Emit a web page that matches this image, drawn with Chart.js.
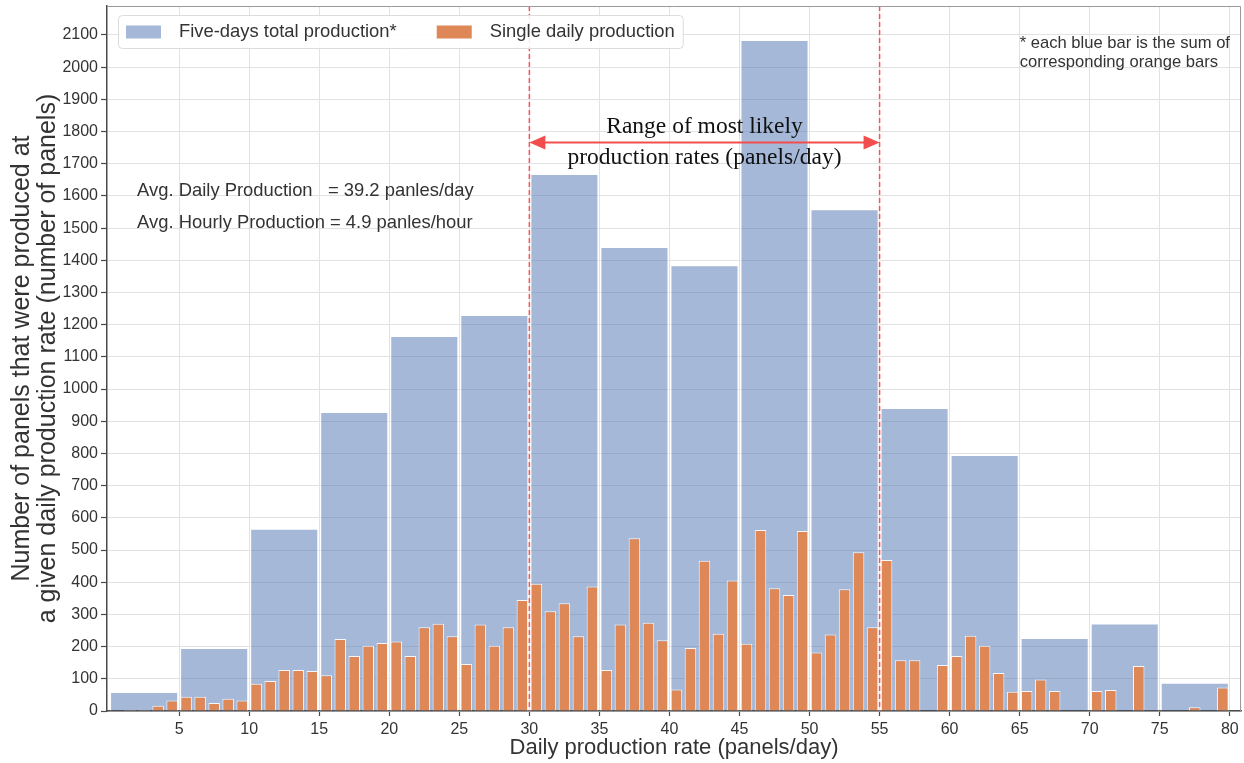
<!DOCTYPE html>
<html>
<head>
<meta charset="utf-8">
<script src="https://cdn.jsdelivr.net/npm/chart.js@4.4.1/dist/chart.umd.min.js"></script>
<style>
  html, body { margin: 0; padding: 0; background: #ffffff; }
  canvas { display: block; }
</style>
</head>
<body>
<canvas id="chart" width="1244" height="763"></canvas>
<script>
// Daily production rate bins (panels/day), one per bar centre
const dailyRates = [
  0.5, 1.5, 2.5, 3.5, 4.5, 5.5, 6.5, 7.5, 8.5, 9.5,
  10.5, 11.5, 12.5, 13.5, 14.5, 15.5, 16.5, 17.5, 18.5, 19.5,
  20.5, 21.5, 22.5, 23.5, 24.5, 25.5, 26.5, 27.5, 28.5, 29.5,
  30.5, 31.5, 32.5, 33.5, 34.5, 35.5, 36.5, 37.5, 38.5, 39.5,
  40.5, 41.5, 42.5, 43.5, 44.5, 45.5, 46.5, 47.5, 48.5, 49.5,
  50.5, 51.5, 52.5, 53.5, 54.5, 55.5, 56.5, 57.5, 58.5, 59.5,
  60.5, 61.5, 62.5, 63.5, 64.5, 65.5, 66.5, 67.5, 68.5, 69.5,
  70.5, 71.5, 72.5, 73.5, 74.5, 75.5, 76.5, 77.5, 78.5, 79.5
];

// Panels produced at each single daily rate
const dailyCounts = [
  0, 3, 3, 16, 33, 44, 44, 25, 38, 33,
  85, 93, 127, 127, 124, 111, 224, 171, 203, 211,
  216, 171, 260, 271, 232, 146, 269, 203, 260, 345,
  395, 310, 335, 232, 387, 127, 269, 537, 274, 220,
  67, 196, 467, 240, 405, 209, 562, 381, 360, 559,
  182, 238, 378, 493, 260, 469, 158, 158, 0, 143,
  171, 234, 203, 118, 60, 62, 98, 62, 0, 0,
  62, 65, 0, 140, 0, 0, 0, 12, 0, 73
];

// Five-day groups (centre of each 5-panel/day span) and their totals
const fiveDayBins = [2.5, 7.5, 12.5, 17.5, 22.5, 27.5, 32.5, 37.5, 42.5, 47.5, 52.5, 57.5, 62.5, 67.5, 72.5, 77.5];
const fiveDayTotals = [59, 196, 566, 929, 1165, 1230, 1668, 1441, 1385, 2084, 1559, 941, 795, 227, 272, 88];

// Axis ticks
const xTicks = [5, 10, 15, 20, 25, 30, 35, 40, 45, 50, 55, 60, 65, 70, 75, 80];
const yTicks = [0, 100, 200, 300, 400, 500, 600, 700, 800, 900, 1000, 1100,
                1200, 1300, 1400, 1500, 1600, 1700, 1800, 1900, 2000, 2100];

// Labels and notes
const seriesNames = ['Five-days total production*', 'Single daily production'];
const likelyRange = [30, 55];
const rangeLines = ['Range of most likely', 'production rates (panels/day)'];
const avgLines = ['Avg. Daily Production   = 39.2 panles/day', 'Avg. Hourly Production = 4.9 panles/hour'];
const noteLines = ['* each blue bar is the sum of', 'corresponding orange bars'];
const xTitle = 'Daily production rate (panels/day)';
const yTitle = ['Number of panels that were produced at', 'a given daily production rate (number of panels)'];

const BLUE = 'rgba(76, 114, 176, 0.5)';
const ORANGE = 'rgb(222, 135, 87)';
const RED = '#f24e4e';
const TEXT = '#333333';
const GRID = '#e2e2e2';
const AXIS = '#4a4a4a';
const SANS = '"Liberation Sans", Arial, sans-serif';
const SERIF = '"Liberation Serif", "Times New Roman", serif';

// Guides, arrow, in-plot notes, frame and legend
const overlay = {
  id: 'overlay',
  afterDatasetsDraw(chart) {
    const { ctx, chartArea: ca, scales: { x, y } } = chart;
    ctx.save();

    // dashed guides bounding the likely range
    ctx.strokeStyle = '#ff5252';
    ctx.lineWidth = 1.5;
    ctx.setLineDash([5, 3]);
    likelyRange.forEach(v => {
      const px = x.getPixelForValue(v);
      ctx.beginPath();
      ctx.moveTo(px, ca.top);
      ctx.lineTo(px, ca.bottom);
      ctx.stroke();
    });
    ctx.setLineDash([]);

    // double-headed arrow
    const ay = y.getPixelForValue(1766);
    const x0 = x.getPixelForValue(likelyRange[0]);
    const x1 = x.getPixelForValue(likelyRange[1]);
    ctx.strokeStyle = RED;
    ctx.fillStyle = RED;
    ctx.lineWidth = 2;
    ctx.beginPath();
    ctx.moveTo(x0 + 10, ay);
    ctx.lineTo(x1 - 10, ay);
    ctx.stroke();
    [[x0, 1], [x1, -1]].forEach(([tip, dir]) => {
      ctx.beginPath();
      ctx.moveTo(tip, ay);
      ctx.lineTo(tip + dir * 16, ay - 7);
      ctx.lineTo(tip + dir * 16, ay + 7);
      ctx.closePath();
      ctx.fill();
    });

    // range caption
    const mid = x.getPixelForValue((likelyRange[0] + likelyRange[1]) / 2);
    ctx.fillStyle = '#111111';
    ctx.font = `23.5px ${SERIF}`;
    ctx.textAlign = 'center';
    ctx.textBaseline = 'alphabetic';
    ctx.fillText(rangeLines[0], mid, y.getPixelForValue(1795));
    ctx.fillText(rangeLines[1], mid, y.getPixelForValue(1700));

    // averages
    ctx.fillStyle = TEXT;
    ctx.textAlign = 'left';
    ctx.font = `18.4px ${SANS}`;
    ctx.fillText(avgLines[0], x.getPixelForValue(2), y.getPixelForValue(1600));
    ctx.fillText(avgLines[1], x.getPixelForValue(2), y.getPixelForValue(1500));

    // footnote
    ctx.font = `16.6px ${SANS}`;
    ctx.fillText(noteLines[0], x.getPixelForValue(65), y.getPixelForValue(2058));
    ctx.fillText(noteLines[1], x.getPixelForValue(65), y.getPixelForValue(2000));
    ctx.restore();
  },
  afterDraw(chart) {
    const { ctx, chartArea: ca } = chart;
    ctx.save();

    // light top and right frame
    ctx.strokeStyle = '#9a9a9a';
    ctx.lineWidth = 1;
    ctx.beginPath();
    ctx.moveTo(ca.left, ca.top + 0.5);
    ctx.lineTo(ca.right - 0.5, ca.top + 0.5);
    ctx.lineTo(ca.right - 0.5, ca.bottom);
    ctx.stroke();

    // legend
    ctx.font = `18.4px ${SANS}`;
    const bx = ca.left + 11, by = ca.top + 9, bh = 33;
    const sw = 35, sh = 13, gap = 18, itemGap = 40;
    const w0 = ctx.measureText(seriesNames[0]).width;
    const w1 = ctx.measureText(seriesNames[1]).width;
    const bw = 8 + sw + gap + w0 + itemGap + sw + gap + w1 + 8;
    ctx.beginPath();
    ctx.roundRect(bx + 0.5, by + 0.5, bw, bh, 4);
    ctx.fillStyle = 'rgba(255, 255, 255, 0.88)';
    ctx.fill();
    ctx.strokeStyle = '#dcdcdc';
    ctx.stroke();

    const cy = by + bh / 2 + 0.5;
    let cx = bx + 8;
    ctx.fillStyle = BLUE;
    ctx.fillRect(cx, cy - sh / 2, sw, sh);
    ctx.fillStyle = TEXT;
    ctx.textAlign = 'left';
    ctx.textBaseline = 'middle';
    ctx.fillText(seriesNames[0], cx + sw + gap, cy);
    cx += sw + gap + w0 + itemGap;
    ctx.fillStyle = ORANGE;
    ctx.fillRect(cx, cy - sh / 2, sw, sh);
    ctx.fillStyle = TEXT;
    ctx.fillText(seriesNames[1], cx + sw + gap, cy);
    ctx.restore();
  }
};

new Chart(document.getElementById('chart'), {
  type: 'bar',
  data: {
    datasets: [
      {
        label: seriesNames[0],
        data: fiveDayBins.map((v, i) => ({ x: v, y: fiveDayTotals[i] })),
        backgroundColor: BLUE,
        borderColor: '#ffffff',
        borderWidth: 1,
        grouped: false,
        categoryPercentage: 1,
        barPercentage: 4.86,
        order: 2
      },
      {
        label: seriesNames[1],
        data: dailyRates.map((v, i) => ({ x: v, y: dailyCounts[i] })),
        backgroundColor: ORANGE,
        borderColor: 'rgba(255, 255, 255, 0.9)',
        borderWidth: 1,
        grouped: false,
        categoryPercentage: 1,
        barPercentage: 0.82,
        order: 1
      }
    ]
  },
  options: {
    responsive: false,
    animation: false,
    events: [],
    layout: { padding: { top: 6, right: 3, left: 0, bottom: 0 } },
    plugins: {
      legend: { display: false },
      tooltip: { enabled: false }
    },
    scales: {
      x: {
        type: 'linear',
        min: -0.15,
        max: 80.8,
        offset: false,
        afterBuildTicks: s => { s.ticks = xTicks.map(v => ({ value: v })); },
        afterFit: s => { s.height = 52; s.paddingLeft = 0; s.paddingRight = 0; },
        grid: { color: GRID, lineWidth: 1, offset: false, tickLength: 5, tickColor: AXIS, tickWidth: 1.2 },
        border: { color: AXIS, width: 1.5 },
        ticks: {
          color: TEXT, padding: 4, maxRotation: 0, autoSkip: false,
          font: { family: SANS, size: 16 },
          callback: v => String(v)
        },
        title: {
          display: true, text: xTitle, color: TEXT,
          font: { family: SANS, size: 22, lineHeight: 1.2 },
          padding: { top: 0, bottom: 2 }
        }
      },
      y: {
        min: 0,
        max: 2190,
        afterBuildTicks: s => { s.ticks = yTicks.map(v => ({ value: v })); },
        afterFit: s => { s.width = 107; s.paddingTop = 0; s.paddingBottom = 0; },
        grid: { color: GRID, lineWidth: 1, tickLength: 6, tickColor: AXIS, tickWidth: 1.2 },
        border: { color: AXIS, width: 1.5 },
        ticks: {
          color: TEXT, padding: 3, autoSkip: false,
          font: { family: SANS, size: 16 },
          callback: v => String(v)
        },
        title: {
          display: true, text: yTitle, color: TEXT,
          font: { family: SANS, size: 25, lineHeight: '26px' },
          padding: { top: 9, bottom: 0 }
        }
      }
    }
  },
  plugins: [overlay]
});
</script>
</body>
</html>
